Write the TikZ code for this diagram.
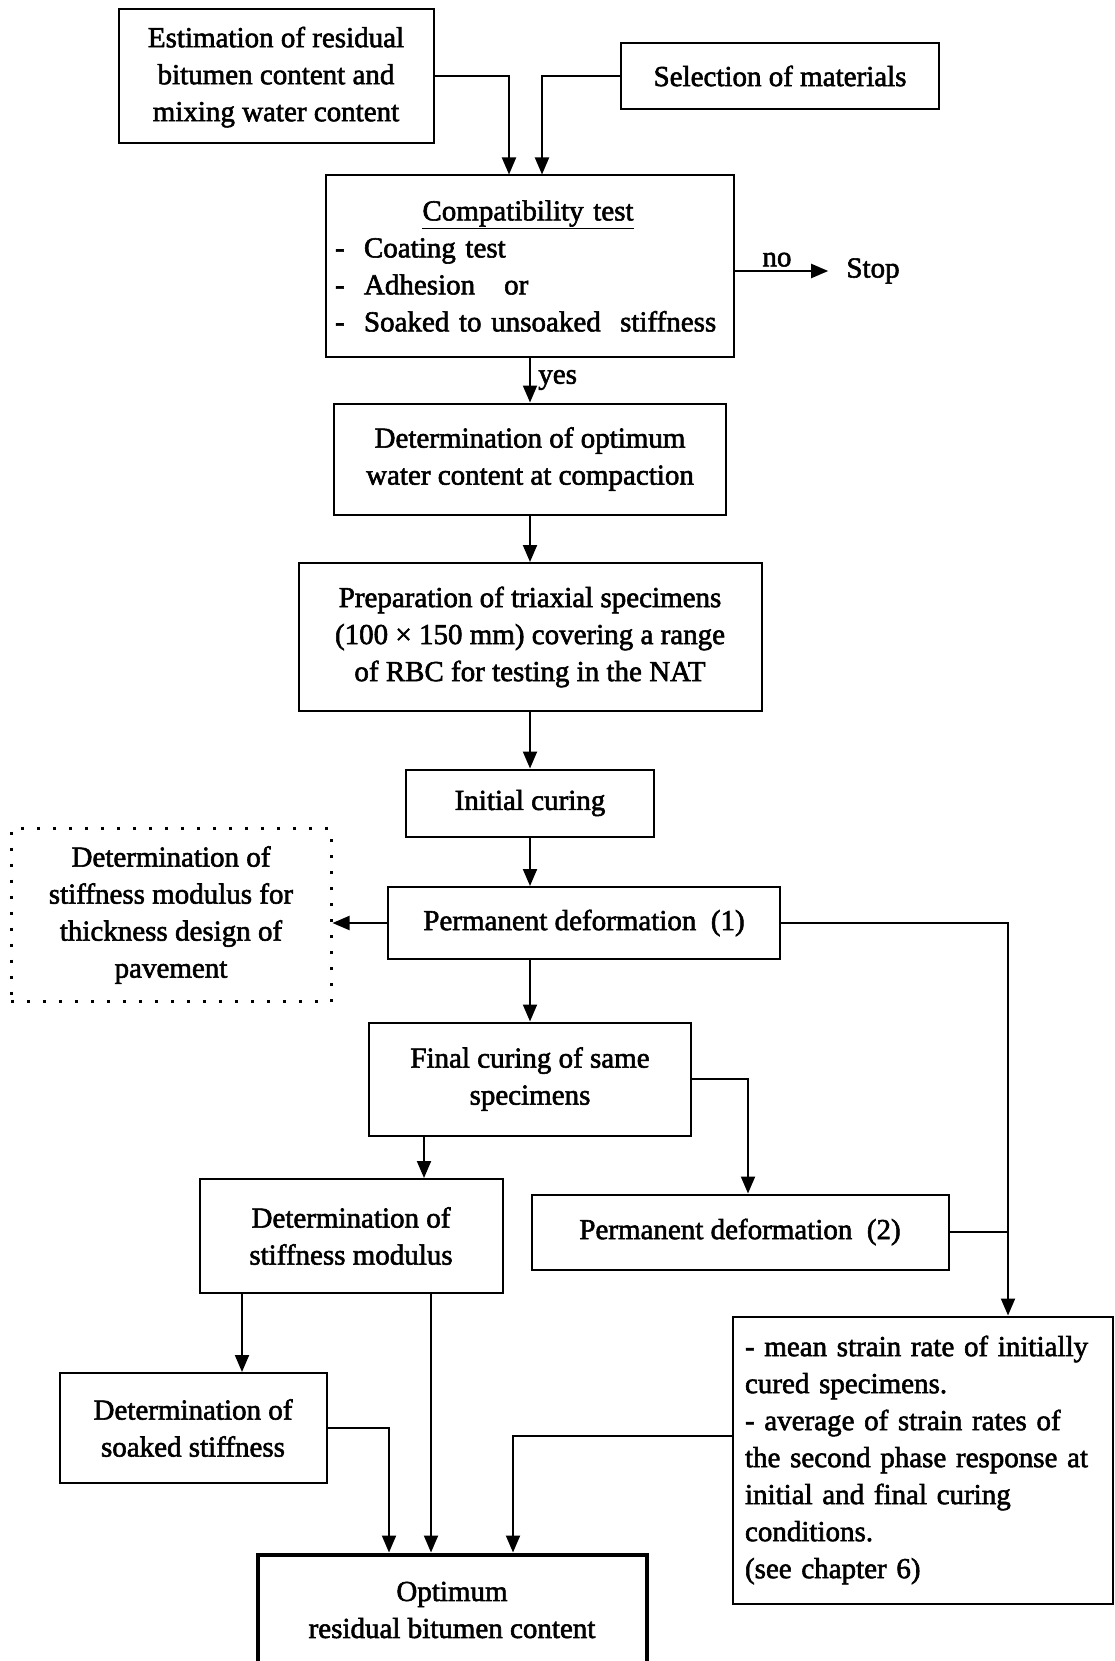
\documentclass[tikz,border=0pt]{standalone}
\usepackage{fontspec}
\setmainfont{Liberation Serif}[FakeBold=2]
\usepackage{tikz}
\usetikzlibrary{positioning, calc, arrows.meta}
\tikzstyle{process} = [rectangle, draw=black, line width=2pt, align=center, inner sep=0pt]
\tikzstyle{dotbox} = [process, line width=3pt, dash pattern=on 3pt off 13pt]
\tikzstyle{result} = [process, line width=4pt]
\tikzstyle{arrow} = [line width=2pt, -{Triangle[length=17pt,width=14pt]}]
\tikzstyle{line} = [line width=2pt]

\begin{document}
\begin{tikzpicture}[x=1pt, y=-1pt, font=\fontsize{29}{37}\selectfont]
\useasboundingbox (0,0) rectangle (1115,1661);

\node (est) [process, minimum width=315pt, minimum height=134pt, text depth=4pt] at (276,76) {Estimation of residual\\ bitumen content and\\ mixing water content};
\node (sel) [process, minimum width=318pt, minimum height=66pt] at (780,76) {Selection of materials};
\node (comp) [process, minimum width=408pt, minimum height=181pt, text width=390pt, align=left] at (530,266) {\makebox[386pt]{\underline{Compatibility test}}\\ -\ \ Coating test\\ -\ \ Adhesion\quad or\\ -\ \ \mbox{Soaked to unsoaked\ \ stiffness}};
\node (stop) [inner xsep=18pt] at (873,271) {Stop};
\node (owc) [process, minimum width=392pt, minimum height=111pt] at (530,459) {Determination of optimum\\ water content at compaction};
\node (prep) [process, minimum width=463pt, minimum height=148pt] at (530,637) {Preparation of triaxial specimens\\ (100 × 150 mm) covering a range\\ of RBC for testing in the NAT};
\node (init) [process, minimum width=248pt, minimum height=67pt] at (530,803) {Initial curing};
\node (pd1) [process, minimum width=392pt, minimum height=72pt] at (584,923) {Permanent deformation\ \ (1)};
\node (design) [dotbox, minimum width=320pt, minimum height=173pt] at (171,915) {Determination of\\ stiffness modulus for\\ thickness design of\\ pavement};
\node (fin) [process, minimum width=322pt, minimum height=113pt] at (530,1079) {Final curing of same\\ specimens};
\node (pd2) [process, minimum width=417pt, minimum height=75pt] at (740,1232) {Permanent deformation\ \ (2)};
\node (smod) [process, minimum width=303pt, minimum height=114pt] at (351,1236) {Determination of\\ stiffness modulus};
\node (soak) [process, minimum width=267pt, minimum height=110pt] at (193,1428) {Determination of\\ soaked stiffness};
\node (mean) [process, minimum width=380pt, minimum height=287pt, text width=356pt, align=left] at (923,1460) {- mean strain rate of initially\\ cured specimens.\\ - average of strain rates of\\ the second phase response at\\ initial and final curing\\ conditions.\\ (see chapter 6)};
\node (opt) [result, minimum width=389pt, minimum height=111pt] at (452,1610) {Optimum\\ residual bitumen content};

\coordinate (bus) at (1008,0);

\draw [arrow] (est.east) -| ([xshift=-21pt]comp.north);
\draw [arrow] (sel.west) -| ([xshift=12pt]comp.north);
\draw [arrow] (comp.east |- stop) -- node[above, pos=0.45] {no} (stop.west);
\draw [arrow] (comp.south) -- node[right, xshift=4pt] {yes} (owc.north);
\draw [arrow] (owc) -- (prep);
\draw [arrow] (prep) -- (init);
\draw [arrow] (init) -- (init |- pd1.north);
\draw [arrow] (pd1.west) -- (design.east |- pd1.west);
\draw [arrow] (pd1.south -| fin.north) -- (fin.north);
% both deformation tests feed the strain rate box
\draw [arrow] (pd1.east) -| (bus |- mean.north);
\draw [line] (pd2.east) -- (pd2.east -| bus);
\draw [arrow] (fin.east) -| ([xshift=8pt]pd2.north);
\draw [arrow] ([xshift=73pt]smod.north |- fin.south) -- ([xshift=73pt]smod.north);
\draw [arrow] ([xshift=49pt]soak.north |- smod.south) -- ([xshift=49pt]soak.north);
\draw [arrow] (soak.east) -| ([xshift=-63pt]opt.north);
\draw [arrow] ([xshift=-21pt]opt.north |- smod.south) -- ([xshift=-21pt]opt.north);
\draw [arrow] ([yshift=24pt]mean.west) -| ([xshift=61pt]opt.north);
\end{tikzpicture}
\end{document}
